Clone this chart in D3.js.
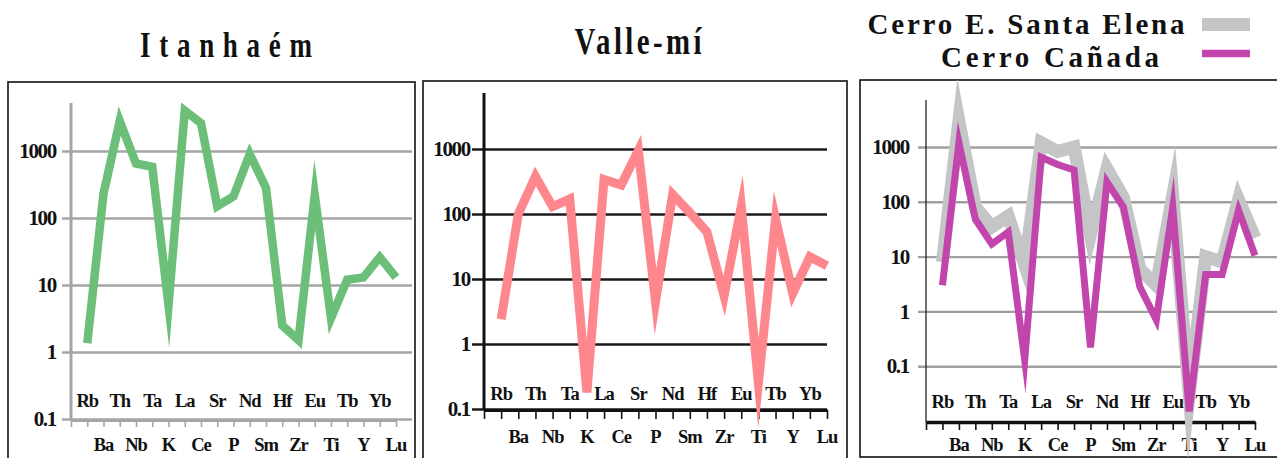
<!DOCTYPE html>
<html>
<head>
<meta charset="utf-8">
<script src="https://cdn.jsdelivr.net/npm/d3@7"></script>
<style>
  body { margin: 0; background: #fff; }
  svg { display: block; }
  text { font-family: "Liberation Serif", "Times New Roman", serif; font-weight: bold; fill: #111; }
</style>
</head>
<body>
<svg id="chart" width="1277" height="458"></svg>
<script>
// element order along the x axis (spider diagram)
const elements = ["Rb", "Ba", "Th", "Nb", "Ta", "K", "La", "Ce", "Sr", "P",
                  "Nd", "Sm", "Hf", "Zr", "Eu", "Ti", "Tb", "Y", "Yb", "Lu"];

// normalised concentrations
const itanhaem   = [1.35, 230, 2800, 650, 580, 5, 4000, 2600, 150, 210,
                    900, 280, 2.5, 1.5, 220, 3.2, 12, 13, 26, 13];
const valleMi    = [2.4, 100, 380, 130, 170, 0.18, 340, 280, 950, 4.5,
                    200, 105, 53, 5.5, 130, 0.25, 85, 6, 22, 16];
const santaElena = [8, 3000, 80, 35, 55, 7, 1200, 830, 1000, 25,
                    400, 120, 6, 3, 130, 0.03, 10, 8, 110, 22];
const canada     = [3, 1200, 48, 17, 28, 0.13, 650, 480, 380, 0.22,
                    230, 80, 2.8, 0.7, 80, 0.015, 4.7, 4.7, 70, 10.5];

const yTicks = [1000, 100, 10, 1, 0.1];
const yTickLabels = ["1000", "100", "10", "1", "0.1"];

const svg = d3.select("#chart");

function drawPanel(p) {
    const g = svg.append("g");
    const x = d3.scaleLinear().domain([0, elements.length]).range([p.x0, p.x1]);
    const y = d3.scaleLog().domain(p.yDomain).range(p.yRange);

    // frame
    g.append("rect")
        .attr("x", p.frame[0]).attr("y", p.frame[1])
        .attr("width", p.frame[2]).attr("height", p.frame[3])
        .attr("fill", "none").attr("stroke", "#111").attr("stroke-width", 1.6);

    // gridlines + y labels
    const yAxis = d3.axisLeft(y)
        .tickValues(yTicks)
        .tickFormat((d, i) => yTickLabels[i])
        .tickSizeInner(-(p.gridRight - p.x0 + p.gridLeft))
        .tickSizeOuter(0)
        .tickPadding(p.labelGap);
    const ya = g.append("g")
        .attr("transform", `translate(${p.x0 - p.gridLeft},0)`)
        .call(yAxis);
    ya.select(".domain").remove();
    ya.selectAll(".tick line").attr("stroke", p.gridColor).attr("stroke-width", 2.4);
    ya.selectAll(".tick text")
        .attr("font-family", '"Liberation Serif", serif')
        .attr("font-weight", "bold")
        .attr("font-size", 21)
        .attr("letter-spacing", -1.3)
        .attr("fill", "#111");

    // vertical axis
    g.append("line")
        .attr("x1", p.x0).attr("x2", p.x0)
        .attr("y1", p.axisTop).attr("y2", p.axisY)
        .attr("stroke", p.yAxisColor).attr("stroke-width", p.yAxisWidth);

    // horizontal axis with small ticks
    const xAxis = d3.axisBottom(x)
        .tickValues(d3.range(elements.length + 1))
        .tickFormat("")
        .tickSizeInner(p.tickLen)
        .tickSizeOuter(0);
    const xa = g.append("g")
        .attr("transform", `translate(0,${p.axisY})`)
        .call(xAxis);
    xa.select(".domain").attr("stroke", p.xAxisColor).attr("stroke-width", p.xAxisWidth);
    xa.selectAll(".tick line").attr("stroke", p.xAxisColor).attr("stroke-width", 1.6);

    // element labels, staggered in two rows
    g.selectAll("text.el")
        .data(elements)
        .enter()
        .append("text")
        .attr("class", "el")
        .attr("x", (d, i) => x(i + 1))
        .attr("y", (d, i) => i % 2 === 0 ? p.rowTop : p.rowBottom)
        .attr("text-anchor", "middle")
        .attr("font-size", 18.5)
        .attr("letter-spacing", -1)
        .text(d => d);

    // series
    const clipId = "clip" + p.id;
    svg.append("clipPath").attr("id", clipId)
        .append("rect")
        .attr("x", p.frame[0]).attr("y", p.frame[1])
        .attr("width", p.frame[2]).attr("height", p.frame[3]);

    const line = d3.line()
        .x((d, i) => x(i + 1))
        .y(d => y(d));

    p.series.forEach(s => {
        g.append("path")
            .datum(s.values)
            .attr("d", line)
            .attr("clip-path", `url(#${clipId})`)
            .attr("fill", "none")
            .attr("stroke", s.color)
            .attr("stroke-width", s.width)
            .attr("stroke-linejoin", "miter")
            .attr("stroke-miterlimit", s.miter)
            .attr("stroke-linecap", "butt");
    });
}

drawPanel({
    id: 1,
    frame: [8, 82, 407, 400],
    x0: 71, x1: 396,
    yDomain: [0.1, 1000], yRange: [419, 151],
    axisTop: 103, axisY: 420,
    gridLeft: 9, gridRight: 412, labelGap: 6,
    gridColor: "#a5a5a5",
    yAxisColor: "#a5a5a5", yAxisWidth: 3,
    xAxisColor: "#a5a5a5", xAxisWidth: 3, tickLen: 7,
    rowTop: 407, rowBottom: 451,
    series: [{ values: itanhaem, color: "#6bbf79", width: 8.5, miter: 20 }]
});

drawPanel({
    id: 2,
    frame: [423, 81, 424, 400],
    x0: 484, x1: 827,
    yDomain: [0.1, 1000], yRange: [409, 149],
    axisTop: 93, axisY: 410,
    gridLeft: 12, gridRight: 827, labelGap: 2,
    gridColor: "#1a1a1a",
    yAxisColor: "#111", yAxisWidth: 3,
    xAxisColor: "#111", xAxisWidth: 3, tickLen: 9,
    rowTop: 400, rowBottom: 443,
    series: [{ values: valleMi, color: "#fd878d", width: 9, miter: 11 }]
});

drawPanel({
    id: 3,
    frame: [860, 80, 430, 377],
    x0: 926, x1: 1255,
    yDomain: [0.01, 1000], yRange: [421, 147],
    axisTop: 100, axisY: 422,
    gridLeft: 8, gridRight: 1277, labelGap: 9,
    gridColor: "#9f9f9f",
    yAxisColor: "#222", yAxisWidth: 1.3,
    xAxisColor: "#111", xAxisWidth: 3.5, tickLen: 8,
    rowTop: 408, rowBottom: 451,
    series: [
        { values: santaElena, color: "#c4c5c7", width: 13, miter: 20 },
        { values: canada, color: "#c145aa", width: 7, miter: 10 }
    ]
});

// titles
function title(txt, cx, baseline, size, width, sx) {
    svg.append("text")
        .attr("transform", `translate(${cx},${baseline}) scale(${sx},1)`)
        .attr("text-anchor", "middle")
        .attr("font-size", size)
        .attr("textLength", width / sx)
        .attr("lengthAdjust", "spacing")
        .text(txt);
}
title("Itanhaém", 226, 57, 36, 172, 0.75);
title("Valle-mí", 638, 54, 37, 127, 0.78);

// legend for the third panel
const legendNames = ["Cerro E. Santa Elena", "Cerro Cañada"];
const legendColors = ["#c4c5c7", "#c145aa"];
const legendWidths = [13, 7.5];
const legendText = [[1026, 34, 317], [1050, 67, 218]];
legendNames.forEach((n, i) => {
    svg.append("text")
        .attr("x", legendText[i][0]).attr("y", legendText[i][1])
        .attr("text-anchor", "middle")
        .attr("font-size", 29)
        .attr("textLength", legendText[i][2])
        .attr("lengthAdjust", "spacing")
        .text(n);
    svg.append("line")
        .attr("x1", 1202).attr("x2", 1250)
        .attr("y1", i === 0 ? 24.5 : 53.5).attr("y2", i === 0 ? 24.5 : 53.5)
        .attr("stroke", legendColors[i])
        .attr("stroke-width", legendWidths[i]);
});
</script>
</body>
</html>
